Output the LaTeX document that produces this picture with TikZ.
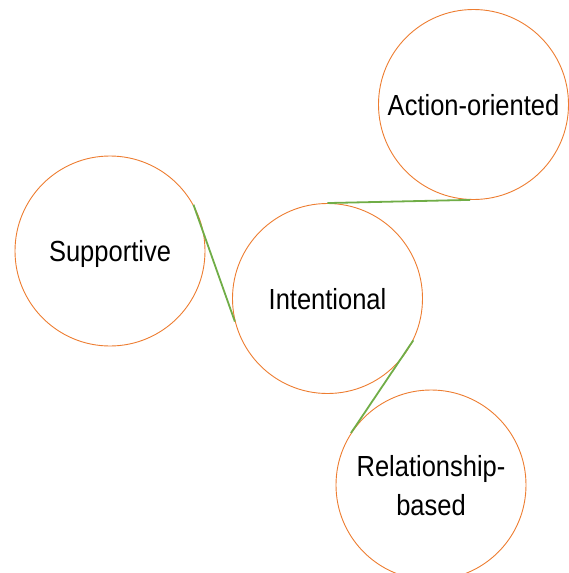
\documentclass[tikz,border=0pt]{standalone}
\usepackage{fontspec}
\usepackage{graphicx}
\setmainfont{Liberation Sans}
\definecolor{circorange}{RGB}{237,125,49}
\definecolor{linkgreen}{RGB}{112,173,71}
\newcommand{\alto}[1]{\scalebox{1}[1.14]{#1}}

\begin{document}
\begin{tikzpicture}[x=1pt,y=-1pt]
        \tikzset{quality/.style={draw=circorange, line width=0.9pt, circle, minimum size=190pt, inner sep=0pt,
                 font=\fontsize{25.5}{39}\selectfont, align=center, text depth=0pt},
                 link/.style={draw=linkgreen, line width=1.8pt}}
        \useasboundingbox (0,0) rectangle (568,573);

        % Cerchi
        \node[quality] (act) at (473.5,104.5) {\alto{Action-oriented}};
        \node[quality] (sup) at (110,251) {\alto{Supportive}};
        \node[quality] (int) at (327.5,298.5) {\alto{Intentional}};
        \node[quality] (rel) at (431,485) {\alto{Relationship-}\\\alto{based}};

        % Collegamenti
        \draw[link] (sup.29) -- (int.194);
        \draw[link] (int.90) -- (act.268);
        \draw[link] (int.334) -- (rel.147);
\end{tikzpicture}
\end{document}
